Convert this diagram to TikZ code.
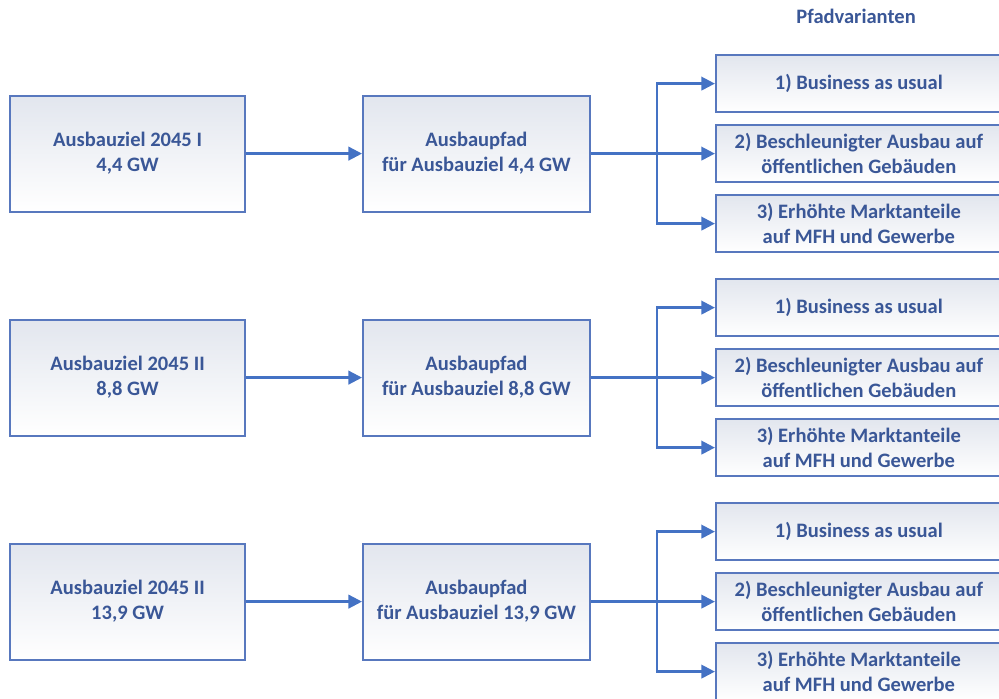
\documentclass[tikz,border=0pt]{standalone}
\usepackage{fontspec}
\setmainfont{Carlito}
\usetikzlibrary{arrows.meta}

\definecolor{txtblue}{HTML}{3A5797}
\definecolor{lineblue}{HTML}{4472C4}
\definecolor{boxline}{HTML}{5878BE}
\definecolor{boxtop}{HTML}{E2E6EE}

\tikzset{
  base/.style={draw=boxline, line width=1.3pt, top color=boxtop, bottom color=white,
    align=center, text=txtblue, font=\fontsize{14.6}{17.7}\selectfont\bfseries, inner sep=0pt},
  zielbox/.style={base, minimum width=5.875cm, minimum height=2.9cm},
  pfadbox/.style={base, minimum width=5.675cm, minimum height=2.9cm},
  variante/.style={base, minimum width=7.15cm, minimum height=1.425cm},
  conn/.style={draw=lineblue, line width=1.6pt},
  arr/.style={conn, -{Triangle[length=0.34cm, width=0.34cm]}}
}

\begin{document}
\begin{tikzpicture}
  \useasboundingbox (0,0) rectangle (24.975,-17.45);

  \node[text=txtblue, font=\fontsize{14.6}{17.7}\selectfont\bfseries] (Titel) at (21.4,-0.4) {Pfadvarianten};

  % Ausbauziel 4,4 GW
  \node[zielbox] (Ziel1) at (3.19,-3.84) {Ausbauziel 2045 I\\4,4 GW};
  \node[pfadbox] (Pfad1) at (11.91,-3.84) {Ausbaupfad\\für Ausbauziel 4,4 GW};
  \node[variante] (V1a) at (21.47,-2.09) {1) Business as usual};
  \node[variante] (V1b) at (21.47,-3.84) {2) Beschleunigter Ausbau auf\\öffentlichen Gebäuden};
  \node[variante] (V1c) at (21.47,-5.59) {3) Erhöhte Marktanteile\\auf MFH und Gewerbe};
  \coordinate (B1) at (16.425,-3.84);

  % Ausbauziel 8,8 GW
  \node[zielbox] (Ziel2) at (3.19,-9.44) {Ausbauziel 2045 II\\8,8 GW};
  \node[pfadbox] (Pfad2) at (11.91,-9.44) {Ausbaupfad\\für Ausbauziel 8,8 GW};
  \node[variante] (V2a) at (21.47,-7.69) {1) Business as usual};
  \node[variante] (V2b) at (21.47,-9.44) {2) Beschleunigter Ausbau auf\\öffentlichen Gebäuden};
  \node[variante] (V2c) at (21.47,-11.19) {3) Erhöhte Marktanteile\\auf MFH und Gewerbe};
  \coordinate (B2) at (16.425,-9.44);

  % Ausbauziel 13,9 GW
  \node[zielbox] (Ziel3) at (3.19,-15.04) {Ausbauziel 2045 II\\13,9 GW};
  \node[pfadbox] (Pfad3) at (11.91,-15.04) {Ausbaupfad\\für Ausbauziel 13,9 GW};
  \node[variante] (V3a) at (21.47,-13.29) {1) Business as usual};
  \node[variante] (V3b) at (21.47,-15.04) {2) Beschleunigter Ausbau auf\\öffentlichen Gebäuden};
  \node[variante] (V3c) at (21.47,-16.79) {3) Erhöhte Marktanteile\\auf MFH und Gewerbe};
  \coordinate (B3) at (16.425,-15.04);

  \draw[arr] (Ziel1) -- (Pfad1);
  \draw[arr] (Pfad1) -- (V1b);
  \draw[arr] (B1) |- (V1a);
  \draw[arr] (B1) |- (V1c);

  \draw[arr] (Ziel2) -- (Pfad2);
  \draw[arr] (Pfad2) -- (V2b);
  \draw[arr] (B2) |- (V2a);
  \draw[arr] (B2) |- (V2c);

  \draw[arr] (Ziel3) -- (Pfad3);
  \draw[arr] (Pfad3) -- (V3b);
  \draw[arr] (B3) |- (V3a);
  \draw[arr] (B3) |- (V3c);
\end{tikzpicture}
\end{document}
